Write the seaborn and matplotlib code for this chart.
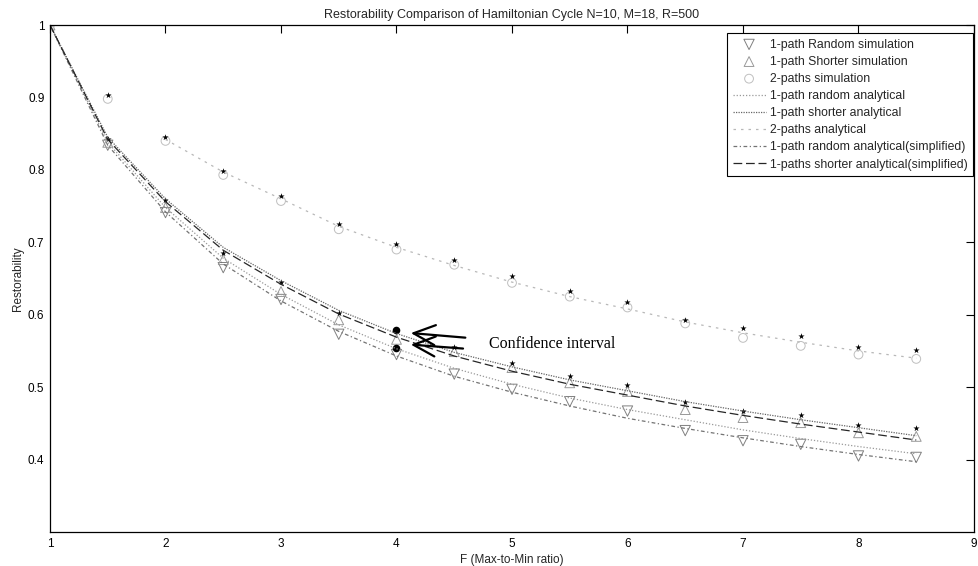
import matplotlib
matplotlib.use("Agg")
import matplotlib.pyplot as plt
import pandas as pd
import seaborn as sns

# F (max-to-min ratio) sample points
F = [1.0, 1.5, 2.0, 2.5, 3.0, 3.5, 4.0, 4.5, 5.0, 5.5, 6.0, 6.5, 7.0, 7.5, 8.0, 8.5]

# simulation results
sim_random = [1.0, 0.834, 0.741, 0.665, 0.621, 0.573, 0.545, 0.518, 0.497, 0.480,
              0.467, 0.440, 0.426, 0.421, 0.405, 0.403]
sim_shorter = [1.0, 0.838, 0.748, 0.676, 0.632, 0.593, 0.566, 0.549, 0.527, 0.506,
               0.494, 0.469, 0.458, 0.451, 0.437, 0.432]
sim_2paths = [1.0, 0.898, 0.840, 0.793, 0.757, 0.718, 0.690, 0.669, 0.644, 0.625,
              0.610, 0.588, 0.568, 0.557, 0.545, 0.539]

# upper confidence bounds of the simulations
ci_shorter = [1.0, 0.842, 0.759, 0.685, 0.645, 0.603, 0.579, 0.556, 0.534, 0.516,
              0.503, 0.480, 0.467, 0.461, 0.448, 0.443]
ci_2paths = [1.0, 0.903, 0.846, 0.799, 0.764, 0.725, 0.697, 0.675, 0.653, 0.633,
             0.617, 0.593, 0.581, 0.571, 0.556, 0.551]

# analytical results
ana_random = [1.0, 0.838, 0.748, 0.678, 0.628, 0.586, 0.553, 0.526, 0.504, 0.485,
              0.469, 0.455, 0.441, 0.429, 0.418, 0.408]
ana_shorter = [1.0, 0.845, 0.760, 0.693, 0.647, 0.606, 0.574, 0.548, 0.528, 0.510,
               0.495, 0.480, 0.467, 0.455, 0.444, 0.433]
F_2paths = [2.0, 2.5, 3.0, 3.5, 4.0, 4.5, 5.0, 5.5, 6.0, 6.5, 7.0, 7.5, 8.0, 8.5]
ana_2paths = [0.842, 0.797, 0.760, 0.722, 0.693, 0.668, 0.645, 0.625, 0.608, 0.590,
              0.575, 0.562, 0.550, 0.540]
simp_random = [1.0, 0.834, 0.742, 0.670, 0.619, 0.577, 0.543, 0.515, 0.493, 0.474,
               0.457, 0.443, 0.430, 0.418, 0.407, 0.397]
simp_shorter = [1.0, 0.842, 0.756, 0.689, 0.642, 0.601, 0.569, 0.543, 0.522, 0.504,
                0.489, 0.474, 0.461, 0.449, 0.438, 0.427]

# highlighted confidence interval at F = 4
ci_F = [4.0, 4.0]
ci_vals = [0.579, 0.554]

x_ticks = [1, 2, 3, 4, 5, 6, 7, 8, 9]
y_ticks = [0.4, 0.5, 0.6, 0.7, 0.8, 0.9, 1.0]
y_tick_labels = ["0.4", "0.5", "0.6", "0.7", "0.8", "0.9", "1"]

sns.set_theme(style="white")
plt.rcParams["font.family"] = ["Liberation Sans", "DejaVu Sans"]

sim = pd.DataFrame({"F": F, "random": sim_random, "shorter": sim_shorter,
                    "two": sim_2paths, "ci_s": ci_shorter, "ci_2": ci_2paths,
                    "a_r": ana_random, "a_s": ana_shorter,
                    "s_r": simp_random, "s_s": simp_shorter})
two = pd.DataFrame({"F": F_2paths, "a_2": ana_2paths})

fig = plt.figure(figsize=(9.79, 5.66), dpi=100)
ax = fig.add_axes([50 / 979, 34 / 566, 924 / 979, 507 / 566])

mk = dict(facecolor="none", linewidth=0.7, legend=True)
sns.scatterplot(data=sim, x="F", y="random", marker="v", s=55,
                edgecolor="0.5", label="1-path Random simulation", ax=ax, **mk)
sns.scatterplot(data=sim, x="F", y="shorter", marker="^", s=50,
                edgecolor="0.6", label="1-path Shorter simulation", ax=ax, **mk)
sns.scatterplot(data=sim, x="F", y="two", marker="o", s=40,
                edgecolor="0.75", label="2-paths simulation", ax=ax, **mk)

ln = dict(linewidth=0.9, ax=ax)
sns.lineplot(data=sim, x="F", y="a_r", color="0.6", linestyle=(0, (1, 1.5)),
             label="1-path random analytical", **ln)
sns.lineplot(data=sim, x="F", y="a_s", color="0.4", linestyle=(0, (1, 1)),
             label="1-path shorter analytical", **ln)
sns.lineplot(data=two, x="F", y="a_2", color="0.72", linestyle=(0, (2, 4)),
             label="2-paths analytical", **ln)
sns.lineplot(data=sim, x="F", y="s_r", color="0.45", linestyle=(0, (3, 2, 1, 2)),
             label="1-path random analytical(simplified)", **ln)
sns.lineplot(data=sim, x="F", y="s_s", color="0.15", linestyle=(0, (7, 3)),
             label="1-paths shorter analytical(simplified)", **ln)

# confidence bound markers
sns.scatterplot(data=sim.iloc[1:], x="F", y="ci_s", marker="*", s=22,
                color="black", linewidth=0, legend=False, ax=ax)
sns.scatterplot(data=sim.iloc[1:], x="F", y="ci_2", marker="*", s=22,
                color="black", linewidth=0, legend=False, ax=ax)
sns.scatterplot(x=ci_F, y=ci_vals, marker="o", s=30, color="black",
                linewidth=0, legend=False, ax=ax)

# arrows pointing at the confidence interval
for (xt, yt), (xh, yh) in [((4.62, 0.568), (4.10, 0.575)),
                           ((4.60, 0.553), (4.10, 0.559))]:
    ax.annotate("", xy=(xh, yh), xytext=(xt, yt),
                arrowprops=dict(arrowstyle="->,head_length=1.3,head_width=0.6",
                                color="black", linewidth=1.6))
ax.text(4.80, 0.559, "Confidence interval", family=["Liberation Serif", "DejaVu Serif"],
        fontsize=11.5, va="center", ha="left", color="black")

ax.set_xlim(1, 9)
ax.set_ylim(0.3, 1.0)
ax.set_xticks(x_ticks)
ax.set_yticks(y_ticks)
ax.set_yticklabels(y_tick_labels)
ax.tick_params(direction="in", length=6, width=0.8, top=True, right=True,
               labelsize=8.5, colors="black", pad=4)
for s in ax.spines.values():
    s.set_color("black")
    s.set_linewidth(0.9)
    s.set_visible(True)

ax.set_xlabel("F (Max-to-Min ratio)", fontsize=8.5, labelpad=3)
ax.set_ylabel("Restorability", fontsize=8.5, labelpad=3)
ax.set_title("Restorability Comparison of Hamiltonian Cycle N=10, M=18, R=500",
             fontsize=9, pad=5)

leg = ax.legend(loc="upper right", bbox_to_anchor=(0.999, 0.984), borderaxespad=0,
                fontsize=8.8, frameon=True, fancybox=False, handlelength=2.7,
                handletextpad=0.35, labelspacing=0.42, borderpad=0.45)
leg.get_frame().set_edgecolor("black")
leg.get_frame().set_linewidth(0.8)
leg.get_frame().set_alpha(1)

fig.savefig("out.png", dpi=100)
